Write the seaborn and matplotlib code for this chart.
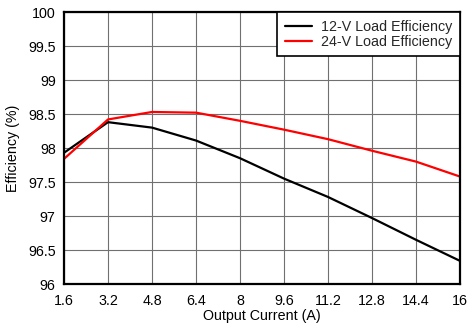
import matplotlib
matplotlib.use("Agg")
import matplotlib.pyplot as plt
import seaborn as sns
import pandas as pd

current = [1.6, 3.2, 4.8, 6.4, 8.0, 9.6, 11.2, 12.8, 14.4, 16.0]
eff_12v = [97.93, 98.38, 98.30, 98.11, 97.85, 97.55, 97.28, 96.97, 96.65, 96.34]
eff_24v = [97.84, 98.42, 98.53, 98.52, 98.40, 98.27, 98.13, 97.96, 97.80, 97.58]
x_ticks = [1.6, 3.2, 4.8, 6.4, 8, 9.6, 11.2, 12.8, 14.4, 16]
y_ticks = [96, 96.5, 97, 97.5, 98, 98.5, 99, 99.5, 100]

df = pd.DataFrame({
    "Output Current (A)": current * 2,
    "Efficiency (%)": eff_12v + eff_24v,
    "Series": ["12-V Load Efficiency"] * len(current) + ["24-V Load Efficiency"] * len(current),
})

sns.set_theme(style="white")
plt.rcParams["font.family"] = ["Liberation Sans", "DejaVu Sans"]

fig = plt.figure(figsize=(4.72, 3.34), dpi=100)
ax = fig.add_axes([0.1356, 0.1497, 0.839, 0.8143])

sns.lineplot(data=df, x="Output Current (A)", y="Efficiency (%)", hue="Series",
             palette={"12-V Load Efficiency": "black", "24-V Load Efficiency": "#ff0000"},
             linewidth=1.6, ax=ax)

fs = 10.3
ax.set_xlim(1.6, 16)
ax.set_ylim(96, 100)
ax.set_xticks(x_ticks)
ax.set_xticklabels([f"{t:g}" for t in x_ticks])
ax.set_yticks(y_ticks)
ax.set_yticklabels([f"{t:g}" for t in y_ticks])
ax.grid(True, color="#707070", linewidth=0.8)
ax.tick_params(axis="x", length=0, labelsize=fs, colors="black", pad=7)
ax.tick_params(axis="y", length=0, labelsize=fs, colors="black", pad=6)
ax.set_xlabel("Output Current (A)", fontsize=fs, color="black", labelpad=1)
ax.set_ylabel("Efficiency (%)", fontsize=fs, color="black", labelpad=6)
for s in ax.spines.values():
    s.set_color("black")
    s.set_linewidth(1.6)

leg = ax.legend(loc="upper right", fontsize=fs, frameon=True, fancybox=False,
                borderaxespad=0, handlelength=1.9, labelspacing=0.05,
                borderpad=0.55, handletextpad=0.6)
leg.get_frame().set_edgecolor("black")
leg.get_frame().set_linewidth(1.2)
leg.get_frame().set_alpha(1)

fig.savefig("out.png", dpi=100)
